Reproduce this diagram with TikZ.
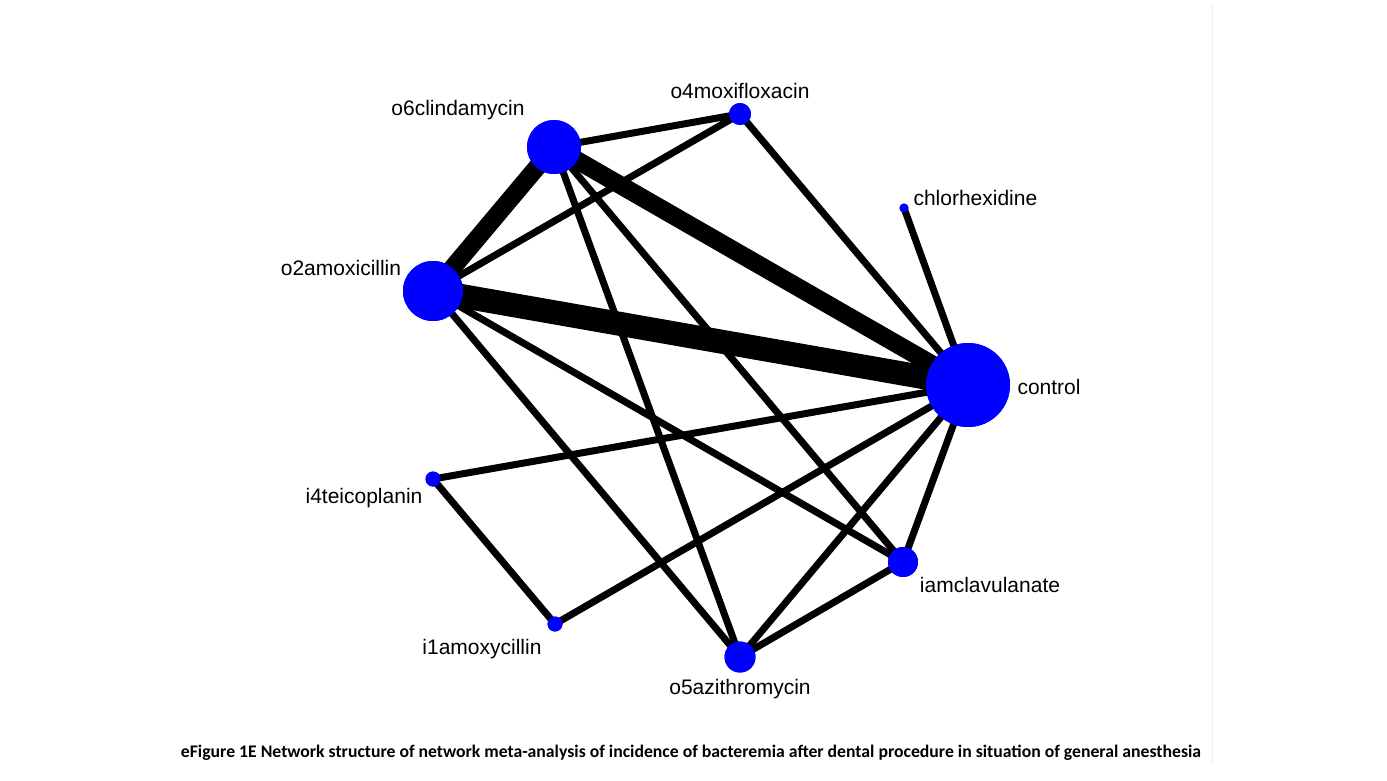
\documentclass[tikz,border=0pt]{standalone}
\usepackage{fontspec}
\setmainfont{Liberation Sans}
\newfontfamily\capfont{Carlito}
\begin{document}
\begin{tikzpicture}[x=1pt,y=-1pt,
  nd/.style={circle,fill=blue,inner sep=0pt,minimum size=#1},
  lb/.style={font=\fontsize{21}{24}\selectfont},
  ed/.style={line width=#1,black}]
\useasboundingbox (0,0) rectangle (1387,780);
\draw[gray!15,line width=1pt] (1212,5) -- (1212,765);
\node[nd=54pt] (o6) at (554,147) {};
\node[nd=22pt] (o4) at (740,114) {};
\node[nd=9pt] (ch) at (904,208) {};
\node[nd=60pt] (o2) at (433,291) {};
\node[nd=84pt] (co) at (968,385) {};
\node[nd=15pt] (i4) at (433,479) {};
\node[nd=30pt] (ia) at (903,562) {};
\node[nd=15pt] (i1) at (555,624) {};
\node[nd=31pt] (o5) at (740,657) {};
\draw[ed=24pt] (o2.center) -- (co.center);
\draw[ed=18pt] (o6.center) -- (co.center);
\draw[ed=18pt] (o6.center) -- (o2.center);
\foreach \a/\b in {o6/o4,o6/o5,o6/ia,o2/o4,o2/ia,o2/o5,o4/co,ch/co,co/i4,co/i1,co/o5,co/ia,o5/ia,i4/i1}
  \draw[ed=7pt] (\a.center) -- (\b.center);
\foreach \n/\s in {o6/54,o4/22,ch/9,o2/60,co/84,i4/15,ia/30,i1/15,o5/31}
  \fill[blue] (\n.center) circle ({\s/2});
\node[lb] at (458,110) {o6clindamycin};
\node[lb] at (740,91) {o4moxifloxacin};
\node[lb,anchor=west] at (910,198) {chlorhexidine};
\node[lb] at (341,268) {o2amoxicillin};
\node[lb,anchor=west] at (1014,387) {control};
\node[lb] at (364,498) {i4teicoplanin};
\node[lb] at (990,585) {iamclavulanate};
\node[lb] at (482,649) {i1amoxycillin};
\node[lb] at (740,689) {o5azithromycin};
\node[font=\capfont\bfseries\fontsize{17.7}{20}\selectfont] at (691,753) {eFigure 1E Network structure of network meta-analysis of incidence of bacteremia after dental procedure in situation of general anesthesia};
\end{tikzpicture}
\end{document}
